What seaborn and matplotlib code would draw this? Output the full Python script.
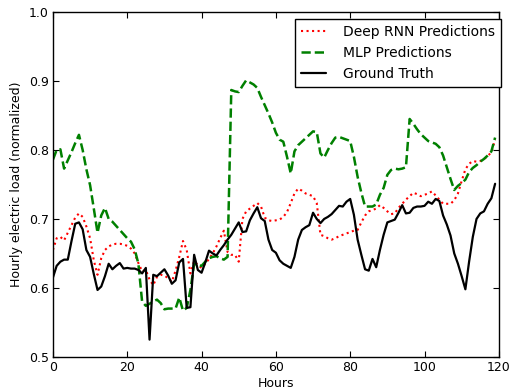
import numpy as np
import pandas as pd
import matplotlib
matplotlib.use("Agg")
import matplotlib.pyplot as plt
import seaborn as sns

hours = list(range(120))

ground_truth = [
    0.615, 0.632, 0.638, 0.641, 0.641, 0.668, 0.693, 0.695, 0.685, 0.655,
    0.645, 0.620, 0.597, 0.602, 0.617, 0.635, 0.627, 0.632, 0.636, 0.628,
    0.629, 0.628, 0.628, 0.626, 0.621, 0.629, 0.525, 0.619, 0.617, 0.622,
    0.627, 0.618, 0.606, 0.611, 0.637, 0.642, 0.571, 0.572, 0.648, 0.626,
    0.622, 0.637, 0.654, 0.650, 0.647, 0.655, 0.662, 0.670, 0.677, 0.686,
    0.695, 0.681, 0.682, 0.698, 0.708, 0.717, 0.701, 0.697, 0.670, 0.655,
    0.651, 0.640, 0.635, 0.632, 0.629, 0.645, 0.670, 0.684, 0.688, 0.691,
    0.709, 0.700, 0.694, 0.700, 0.703, 0.707, 0.713, 0.719, 0.718, 0.725,
    0.729, 0.706, 0.670, 0.648, 0.627, 0.625, 0.642, 0.630, 0.655, 0.677,
    0.695, 0.697, 0.699, 0.709, 0.720, 0.708, 0.709, 0.716, 0.718, 0.718,
    0.719, 0.725, 0.722, 0.729, 0.726, 0.705, 0.692, 0.676, 0.650, 0.635,
    0.617, 0.598, 0.638, 0.674, 0.700, 0.708, 0.711, 0.722, 0.730, 0.751,
]

mlp_pred = [
    0.786, 0.800, 0.801, 0.773, 0.785, 0.797, 0.810, 0.822, 0.800, 0.772,
    0.749, 0.715, 0.680, 0.705, 0.716, 0.700, 0.696, 0.690, 0.684, 0.678,
    0.672, 0.667, 0.656, 0.635, 0.580, 0.574, 0.577, 0.580, 0.583, 0.578,
    0.569, 0.570, 0.570, 0.570, 0.586, 0.567, 0.571, 0.597, 0.635, 0.633,
    0.632, 0.638, 0.643, 0.645, 0.646, 0.643, 0.641, 0.645, 0.887, 0.885,
    0.884, 0.893, 0.901, 0.898, 0.895, 0.890, 0.877, 0.865, 0.853, 0.840,
    0.825, 0.815, 0.812, 0.790, 0.766, 0.798, 0.807, 0.812, 0.817, 0.822,
    0.827, 0.826, 0.795, 0.789, 0.800, 0.810, 0.818, 0.819, 0.817, 0.815,
    0.813, 0.790, 0.761, 0.738, 0.718, 0.718, 0.718, 0.721, 0.735, 0.745,
    0.764, 0.771, 0.773, 0.772, 0.773, 0.775, 0.845, 0.838, 0.830, 0.823,
    0.818, 0.813, 0.811, 0.809, 0.804, 0.792, 0.775, 0.758, 0.742, 0.748,
    0.752, 0.757, 0.768, 0.774, 0.778, 0.783, 0.787, 0.792, 0.798, 0.818,
]

rnn_pred = [
    0.655, 0.672, 0.674, 0.669, 0.680, 0.691, 0.702, 0.708, 0.703, 0.689,
    0.672, 0.640, 0.619, 0.643, 0.655, 0.660, 0.663, 0.664, 0.664, 0.663,
    0.661, 0.657, 0.650, 0.636, 0.624, 0.626, 0.612, 0.604, 0.616, 0.619,
    0.618, 0.614, 0.609, 0.625, 0.645, 0.668, 0.655, 0.621, 0.639, 0.633,
    0.629, 0.635, 0.642, 0.650, 0.660, 0.672, 0.683, 0.652, 0.648, 0.648,
    0.638, 0.700, 0.711, 0.715, 0.719, 0.723, 0.718, 0.702, 0.698, 0.697,
    0.698, 0.699, 0.703, 0.710, 0.723, 0.737, 0.744, 0.741, 0.737, 0.735,
    0.733, 0.723, 0.677, 0.675, 0.672, 0.670, 0.672, 0.675, 0.677, 0.679,
    0.681, 0.683, 0.684, 0.695, 0.705, 0.711, 0.713, 0.715, 0.720, 0.716,
    0.711, 0.707, 0.708, 0.716, 0.722, 0.728, 0.733, 0.738, 0.736, 0.733,
    0.735, 0.737, 0.740, 0.734, 0.728, 0.722, 0.722, 0.722, 0.727, 0.737,
    0.755, 0.772, 0.780, 0.784, 0.783, 0.784, 0.787, 0.791, 0.797, 0.815,
]

labels = ["Deep RNN Predictions", "MLP Predictions", "Ground Truth"]
x_ticks = [0, 20, 40, 60, 80, 100, 120]
y_ticks = [0.5, 0.6, 0.7, 0.8, 0.9, 1.0]

sns.set_theme(style="white")
plt.rcParams.update({
    "font.family": ["DejaVu Sans"],
    "xtick.direction": "in",
    "ytick.direction": "in",
    "xtick.top": True,
    "ytick.right": True,
    "xtick.bottom": True,
    "ytick.left": True,
    "xtick.major.size": 4,
    "ytick.major.size": 4,
    "xtick.major.width": 0.8,
    "ytick.major.width": 0.8,
    "axes.edgecolor": "black",
    "axes.linewidth": 1.0,
    "xtick.color": "black",
    "ytick.color": "black",
    "text.color": "black",
    "axes.labelcolor": "black",
})

fig, ax = plt.subplots(figsize=(5.09, 3.90), dpi=100)
fig.subplots_adjust(left=0.104, right=0.980, top=0.969, bottom=0.085)

df = pd.DataFrame({"hour": hours, "rnn": rnn_pred, "mlp": mlp_pred, "gt": ground_truth})

sns.lineplot(data=df, x="hour", y="rnn", ax=ax, color="red", linestyle=":",
             linewidth=1.5, label=labels[0])
sns.lineplot(data=df, x="hour", y="mlp", ax=ax, color=(0, 0.5, 0), linestyle="--",
             linewidth=1.8, label=labels[1])
sns.lineplot(data=df, x="hour", y="gt", ax=ax, color="black", linestyle="-",
             linewidth=1.6, label=labels[2])

ax.set_xlim(0, 120)
ax.set_ylim(0.5, 1.0)
ax.set_xticks(x_ticks)
ax.set_yticks(y_ticks)
ax.set_xticklabels([str(t) for t in x_ticks], fontsize=9)
ax.set_yticklabels([f"{t:.1f}" for t in y_ticks], fontsize=9)
ax.tick_params(axis="both", which="both", direction="in", top=True, right=True, pad=3)
ax.set_xlabel("Hours", fontsize=9, labelpad=2)
ax.set_ylabel("Hourly electric load (normalized)", fontsize=9, labelpad=4)

leg = ax.legend(loc="upper right", bbox_to_anchor=(1.005, 0.98), fontsize=10,
                frameon=True, fancybox=False, edgecolor="black", framealpha=1.0,
                handlelength=1.8, handletextpad=1.2, borderpad=0.45,
                borderaxespad=0.0)
leg.get_frame().set_linewidth(1.0)

fig.savefig("out.png", dpi=100)
